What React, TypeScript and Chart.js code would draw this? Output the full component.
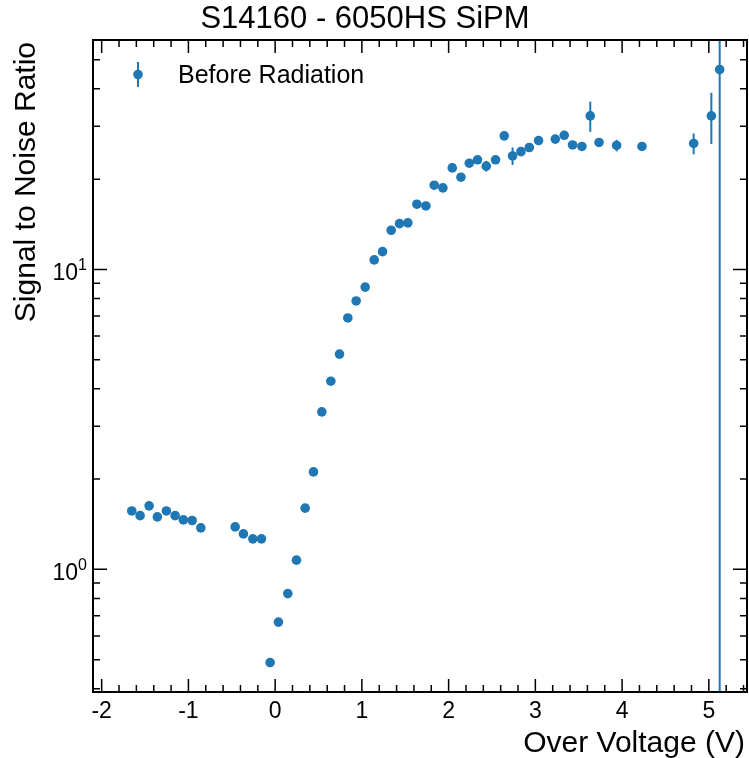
import React, { useEffect, useRef } from "react";
import { Chart, registerables } from "chart.js";

Chart.register(...registerables);

const chartTitle = "S14160 - 6050HS SiPM";
const seriesLabel = "Before Radiation";
const xAxisTitle = "Over Voltage (V)";
const yAxisTitle = "Signal to Noise Ratio";

const overVoltage = [
  -1.653, -1.557, -1.453, -1.358, -1.254, -1.153, -1.058, -0.957, -0.857,
  -0.461, -0.366, -0.257, -0.158, -0.058, 0.038, 0.146, 0.246, 0.346,
  0.442, 0.538, 0.642, 0.742, 0.838, 0.934, 1.038, 1.142, 1.238, 1.338,
  1.434, 1.53, 1.634, 1.738, 1.834, 1.934, 2.042, 2.142, 2.238, 2.333,
  2.434, 2.541, 2.641, 2.737, 2.834, 2.93, 3.037, 3.23, 3.333, 3.429,
  3.537, 3.633, 3.734, 3.937, 4.229, 4.825, 5.029, 5.125,
];

const snr = [
  1.566, 1.51, 1.628, 1.496, 1.566, 1.51, 1.462, 1.455, 1.375,
  1.385, 1.313, 1.264, 1.264, 0.489, 0.667, 0.83, 1.073, 1.6,
  2.113, 3.35, 4.24, 5.22, 6.89, 7.85, 8.73, 10.76, 11.46, 13.51,
  14.21, 14.3, 16.5, 16.28, 19.09, 18.7, 21.8, 20.3, 22.6, 23.2,
  22.1, 23.2, 27.9, 23.9, 24.7, 25.5, 26.9, 27.2, 28.0, 26.0,
  25.7, 32.5, 26.5, 25.9, 25.7, 26.3, 32.5, 46.4,
];

const snrErr = [
  0.02, 0.02, 0.02, 0.02, 0.02, 0.02, 0.02, 0.02, 0.02,
  0.02, 0.02, 0.02, 0.02, 0.01, 0.01, 0.01, 0.02, 0.03,
  0.04, 0.06, 0.08, 0.1, 0.12, 0.14, 0.16, 0.2, 0.2, 0.25,
  0.3, 0.3, 0.35, 0.35, 0.4, 0.4, 0.5, 0.5, 0.5, 0.6,
  0.9, 0.6, 1.0, 1.6, 0.6, 0.6, 0.6, 0.6, 0.7, 0.7,
  0.7, 3.75, 0.7, 1.15, 0.8, 2.1, 6.3, 80,
];

const xTickValues = [-2, -1, 0, 1, 2, 3, 4, 5];
const xTickLabels = ["-2", "-1", "0", "1", "2", "3", "4", "5"];
const yTickValues = [1, 10];
const yTickBase = ["10", "10"];
const yTickExp = ["0", "1"];

const X_MIN = -2.1;
const X_MAX = 5.44;
const Y_MIN = 0.39;
const Y_MAX = 58.2;

const FONT = '"Liberation Sans", Arial, Helvetica, sans-serif';
const COLOR = "#1f77b4";

const errorBarPlugin = {
  id: "errorBars",
  beforeDatasetsDraw(chart: any) {
    const { ctx, chartArea: a, scales } = chart;
    const x = scales.x;
    const y = scales.y;
    ctx.save();
    ctx.beginPath();
    ctx.rect(a.left, a.top, a.right - a.left, a.bottom - a.top);
    ctx.clip();
    ctx.strokeStyle = COLOR;
    ctx.lineWidth = 2;
    overVoltage.forEach((v, i) => {
      const e = snrErr[i];
      const px = x.getPixelForValue(v);
      const hi = snr[i] + e;
      const lo = snr[i] - e;
      const pyHi = y.getPixelForValue(hi);
      const pyLo = lo > 0 ? y.getPixelForValue(lo) : a.bottom + 10;
      ctx.beginPath();
      ctx.moveTo(px, pyLo);
      ctx.lineTo(px, pyHi);
      ctx.stroke();
    });
    ctx.restore();
  },
};

const framePlugin = {
  id: "frame",
  afterDraw(chart: any) {
    const { ctx, chartArea: a, scales } = chart;
    const x = scales.x;
    const y = scales.y;
    ctx.save();
    ctx.strokeStyle = "#000";
    ctx.fillStyle = "#000";
    ctx.lineWidth = 1.5;
    const majLen = 13;
    const minLen = 7;

    const xTick = (v: number, len: number) => {
      const px = x.getPixelForValue(v);
      ctx.beginPath();
      ctx.moveTo(px, a.bottom);
      ctx.lineTo(px, a.bottom - len);
      ctx.moveTo(px, a.top);
      ctx.lineTo(px, a.top + len);
      ctx.stroke();
    };
    const yTick = (v: number, len: number) => {
      const py = y.getPixelForValue(v);
      ctx.beginPath();
      ctx.moveTo(a.left, py);
      ctx.lineTo(a.left + len, py);
      ctx.moveTo(a.right, py);
      ctx.lineTo(a.right - len, py);
      ctx.stroke();
    };

    xTickValues.forEach((v) => xTick(v, majLen));
    for (let k = Math.ceil(X_MIN / 0.2); k * 0.2 <= X_MAX; k++) {
      const v = k * 0.2;
      if (Math.abs(v - Math.round(v)) < 1e-6) continue;
      xTick(v, minLen);
    }
    yTickValues.forEach((v) => yTick(v, 14));
    [0.1, 1, 10].forEach((d) => {
      for (let m = 2; m <= 9; m++) {
        const v = m * d;
        if (v > Y_MIN && v < Y_MAX) yTick(v, minLen);
      }
    });

    // spines
    ctx.lineWidth = 2;
    ctx.strokeRect(a.left, a.top, a.right - a.left, a.bottom - a.top);

    // x tick labels
    ctx.font = `23px ${FONT}`;
    ctx.textAlign = "center";
    ctx.textBaseline = "alphabetic";
    xTickValues.forEach((v, i) => {
      ctx.fillText(xTickLabels[i], x.getPixelForValue(v), 718);
    });

    // y tick labels (10^n)
    yTickValues.forEach((v, i) => {
      const py = y.getPixelForValue(v);
      ctx.font = `16px ${FONT}`;
      const supW = ctx.measureText(yTickExp[i]).width;
      ctx.font = `23px ${FONT}`;
      const baseW = ctx.measureText(yTickBase[i]).width;
      const right = 87;
      ctx.textAlign = "left";
      ctx.fillText(yTickBase[i], right - supW - baseW, py + 10.5);
      ctx.font = `16px ${FONT}`;
      ctx.fillText(yTickExp[i], right - supW, py + 0.5);
    });

    // axis titles
    ctx.font = `30px ${FONT}`;
    ctx.textAlign = "right";
    ctx.fillText(xAxisTitle, 745, 752);
    ctx.save();
    ctx.translate(35, a.top + 2);
    ctx.rotate(-Math.PI / 2);
    ctx.textAlign = "right";
    ctx.fillText(yAxisTitle, 0, 0);
    ctx.restore();

    // title
    ctx.font = `31px ${FONT}`;
    ctx.textAlign = "center";
    ctx.fillText(chartTitle, 365, 28);

    // legend
    ctx.strokeStyle = COLOR;
    ctx.fillStyle = COLOR;
    ctx.lineWidth = 2;
    ctx.beginPath();
    ctx.moveTo(138, 62);
    ctx.lineTo(138, 87);
    ctx.stroke();
    ctx.beginPath();
    ctx.arc(138, 74.5, 4.8, 0, Math.PI * 2);
    ctx.fill();
    ctx.fillStyle = "#000";
    ctx.font = `25px ${FONT}`;
    ctx.textAlign = "left";
    ctx.fillText(seriesLabel, 178, 83);

    ctx.restore();
  },
};

export default function App() {
  const canvasRef = useRef<HTMLCanvasElement | null>(null);

  useEffect(() => {
    const canvas = canvasRef.current;
    if (!canvas) return;
    const chart = new Chart(canvas, {
      type: "scatter",
      data: {
        datasets: [
          {
            label: seriesLabel,
            data: overVoltage.map((v, i) => ({ x: v, y: snr[i] })),
            backgroundColor: COLOR,
            borderColor: COLOR,
            borderWidth: 0,
            pointRadius: 4.8,
            pointHoverRadius: 4.8,
            showLine: false,
          },
        ],
      },
      options: {
        responsive: false,
        animation: false,
        events: [],
        layout: { autoPadding: false, padding: { left: 93, top: 40, right: 2, bottom: 66 } },
        scales: {
          x: { type: "linear", min: X_MIN, max: X_MAX, display: false },
          y: { type: "logarithmic", min: Y_MIN, max: Y_MAX, display: false },
        },
        plugins: {
          legend: { display: false },
          title: { display: false },
          tooltip: { enabled: false },
        },
      },
      plugins: [errorBarPlugin, framePlugin],
    });
    return () => chart.destroy();
  }, []);

  return (
    <div style={{ position: "fixed", left: 0, top: 0, width: 749, height: 758, background: "#fff" }}>
      <canvas ref={canvasRef} width={749} height={758} style={{ display: "block" }} />
    </div>
  );
}
